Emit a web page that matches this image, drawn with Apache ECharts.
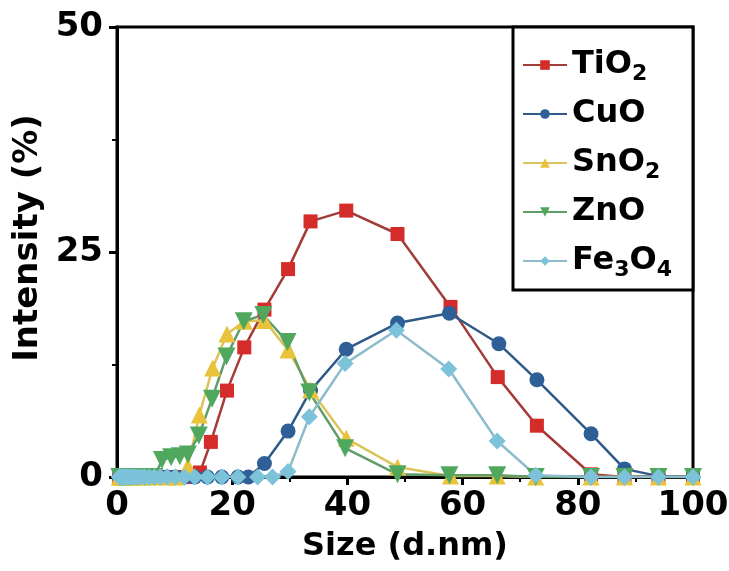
<!DOCTYPE html>
<html>
<head>
<meta charset="utf-8">
<title>Size distribution</title>
<script src="https://cdn.jsdelivr.net/npm/echarts@6/dist/echarts.min.js"></script>
<style>
    html, body { margin: 0; padding: 0; background: #fff; }
    #myEcharts { width: 729px; height: 571px; }
</style>
</head>
<body>
<div id="myEcharts"></div>
<script>
// data
const seriesNames = ['TiO2', 'CuO', 'SnO2', 'ZnO', 'Fe3O4']

// sizes below ~14 nm sit on the baseline, crowded together
const sizeTiO2 = [0.4, 0.6, 0.8, 1.1, 1.5, 2.0, 2.7, 3.6, 4.8, 6.5, 8.7, 10.1, 11.7, 12.9, 14.4, 16.3, 19.1, 22.1, 25.6, 29.7, 33.6, 39.8, 48.7, 57.9, 66.1, 72.9, 82.3, 88.1, 94, 100]
const intTiO2  = [0, 0, 0, 0, 0, 0, 0, 0, 0, 0, 0, 0, 0, 0, 0.5, 3.9, 9.6, 14.4, 18.6, 23.1, 28.4, 29.6, 27.0, 18.9, 11.1, 5.7, 0.3, 0, 0, 0]

const sizeCuO = [0.4, 0.6, 0.8, 1.1, 1.5, 2.0, 2.7, 3.6, 4.8, 6.5, 8.7, 10.1, 11.7, 13.5, 15.7, 18.2, 21.0, 22.8, 25.6, 29.7, 33.6, 39.8, 48.7, 57.7, 66.3, 72.9, 82.3, 88.1, 94, 100]
const intCuO  = [0, 0, 0, 0, 0, 0, 0, 0, 0, 0, 0, 0, 0, 0, 0, 0, 0, 0, 1.5, 5.1, 9.6, 14.2, 17.1, 18.2, 14.8, 10.8, 4.8, 0.9, 0.1, 0]

const sizeSnO2 = [0.4, 0.6, 0.8, 1.1, 1.5, 2.0, 2.7, 3.6, 4.8, 6.5, 8.7, 10.3, 12.3, 14.3, 16.6, 19.1, 22.1, 25.6, 29.7, 33.6, 39.8, 48.7, 57.9, 66.0, 72.7, 82.3, 88.1, 94, 100]
const intSnO2  = [0, 0, 0, 0, 0, 0, 0, 0, 0, 0, 0, 0, 1.2, 6.9, 12.1, 15.9, 17.3, 17.4, 14.1, 9.7, 4.3, 1.1, 0.1, 0.1, 0, 0, 0, 0, 0]

const sizeZnO = [0.4, 0.6, 0.8, 1.1, 1.5, 2.0, 2.7, 3.6, 4.8, 6.5, 7.8, 9.4, 10.9, 12.3, 14.2, 16.5, 19.0, 22.0, 25.4, 29.6, 33.4, 39.6, 48.7, 57.7, 66.0, 72.7, 82.3, 88.1, 94, 100]
const intZnO  = [0, 0, 0, 0, 0, 0, 0, 0, 0, 0, 1.9, 2.2, 2.3, 2.5, 4.6, 8.7, 13.4, 17.3, 18.0, 15.0, 9.4, 3.2, 0.3, 0.2, 0.2, 0, 0, 0, 0, 0]

const sizeFe3O4 = [0.4, 0.5, 0.6, 0.7, 0.8, 1.0, 1.1, 1.3, 1.5, 1.7, 2.0, 2.3, 2.7, 3.1, 3.6, 4.2, 4.8, 5.6, 6.5, 7.5, 8.7, 10.1, 11.7, 13.5, 15.7, 18.2, 21.0, 24.4, 27.0, 29.7, 33.4, 39.6, 48.5, 57.6, 66.0, 72.7, 82.3, 88.1, 94, 100]
const intFe3O4  = [0, 0, 0, 0, 0, 0, 0, 0, 0, 0, 0, 0, 0, 0, 0, 0, 0, 0, 0, 0, 0, 0, 0, 0, 0, 0, 0, 0, 0, 0.6, 6.7, 12.6, 16.3, 12.0, 4.0, 0.2, 0, 0, 0, 0]

const xTicks = [0, 20, 40, 60, 80, 100]
const yTicks = [0, 25, 50]

const style = {
    TiO2:  { symbol: 'rect', size: 14, marker: '#d42b2b', line: '#a33b38' },
    CuO:   { symbol: 'circle', size: 15, marker: '#2e5f96', line: '#2f5a88' },
    SnO2:  { symbol: 'triangle', size: 17, marker: '#e9c33a', line: '#dcc45a' },
    ZnO:   { symbol: 'path://M0,0 L10,0 L5,9 Z', size: 18, marker: '#4fa85e', line: '#5e9c68' },
    Fe3O4: { symbol: 'diamond', size: 17, marker: '#7cc3da', line: '#8cbccc' }
}

function zip(xs, ys) {
    return xs.map((x, i) => [x, ys[i]])
}

function legendLabel(name) {
    // subscripts go into a rich fragment
    return name.replace(/([A-Za-z]+)(\d?)/g, (m, el, num) => {
        return '{n|' + el + '}' + (num ? '{s|' + num + '}' : '')
    })
}

const dataMap = {
    TiO2: zip(sizeTiO2, intTiO2),
    CuO: zip(sizeCuO, intCuO),
    SnO2: zip(sizeSnO2, intSnO2),
    ZnO: zip(sizeZnO, intZnO),
    Fe3O4: zip(sizeFe3O4, intFe3O4)
}

const series = seriesNames.map(name => {
    const s = style[name]
    return {
        name,
        type: 'line',
        data: dataMap[name],
        symbol: s.symbol,
        symbolSize: s.size,
        showAllSymbol: true,
        lineStyle: { color: s.line, width: 2.5 },
        itemStyle: { color: s.marker, borderColor: s.marker, borderWidth: 0 },
        emphasis: { disabled: true },
        animation: false
    }
})

// the source figure uses wide bold type, DejaVu Sans Bold comes closest
const labelFont = { fontFamily: 'DejaVu Sans', fontWeight: 'bold', color: '#000' }

const options = {
    animation: false,
    grid: {
        left: 117, right: 36, top: 27, bottom: 94,
        outerBoundsMode: 'none',
        containLabel: false,
        show: true, borderColor: '#000', borderWidth: 3
    },
    graphic: [{
        type: 'rect',
        z: 10,
        shape: { x: 513, y: 27, width: 180, height: 263 },
        style: { fill: '#fff', stroke: '#000', lineWidth: 3 }
    }],
    legend: {
        z: 20,
        orient: 'vertical',
        left: 517,
        top: 40,
        itemGap: 13,
        itemWidth: 44,
        itemHeight: 12,
        data: seriesNames,
        formatter: legendLabel,
        textStyle: {
            ...labelFont,
            fontSize: 32,
            rich: {
                n: { ...labelFont, fontSize: 32, lineHeight: 38 },
                s: { ...labelFont, fontSize: 22, lineHeight: 38, padding: [18, 0, 0, 0] }
            }
        }
    },
    xAxis: {
        type: 'value',
        min: 0, max: 100, interval: 20,
        name: 'Size (d.nm)',
        nameLocation: 'middle',
        nameGap: 54,
        nameTextStyle: { ...labelFont, fontSize: 32 },
        axisLine: { show: true, lineStyle: { color: '#000', width: 3 } },
        axisTick: { show: true, length: 8, lineStyle: { color: '#000', width: 3 } },
        minorTick: { show: true, splitNumber: 2, length: 5, lineStyle: { color: '#000', width: 2 } },
        splitLine: { show: false },
        axisLabel: {
            ...labelFont, fontSize: 34, margin: 12,
            formatter: v => xTicks.includes(v) ? String(v) : ''
        }
    },
    yAxis: {
        type: 'value',
        min: 0, max: 50, interval: 25,
        name: 'Intensity (%)',
        nameLocation: 'middle',
        nameGap: 68,
        nameRotate: 90,
        nameTextStyle: { ...labelFont, fontSize: 34, padding: [0, 0, 0, 28] },
        axisLine: { show: true, lineStyle: { color: '#000', width: 3 } },
        axisTick: { show: true, length: 8, lineStyle: { color: '#000', width: 3 } },
        minorTick: { show: true, splitNumber: 2, length: 5, lineStyle: { color: '#000', width: 2 } },
        splitLine: { show: false },
        axisLabel: {
            ...labelFont, fontSize: 34, margin: 14,
            formatter: v => yTicks.includes(v) ? String(v) : ''
        }
    },
    series
}

const chart = echarts.init(document.getElementById('myEcharts'))
chart.setOption(options)
</script>
</body>
</html>
